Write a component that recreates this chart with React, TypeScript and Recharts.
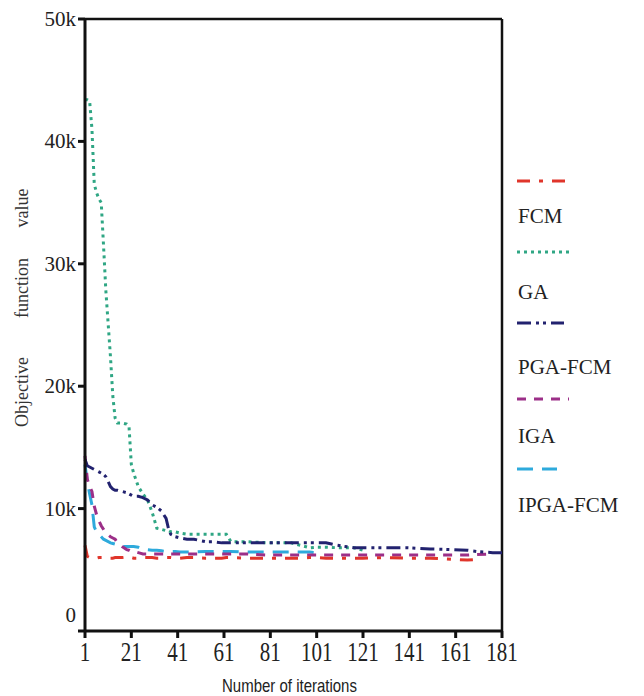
import React from 'react';
import { LineChart, Line, XAxis, YAxis, Legend, ReferenceLine } from 'recharts';

const iterations = [1, 2, 3, 4, 5, 6, 7, 8, 9, 10, 12, 13, 14, 15, 17, 19, 20, 21, 22, 24, 26, 28, 30, 32, 34, 36, 37, 38, 40, 42, 45, 48, 53, 56, 60, 62, 64, 70, 80, 90, 95, 98, 101, 105, 110, 117, 121, 130, 140, 150, 160, 166, 170, 177, 181];

// values in thousands
const fcmValues = [7.0, 6.1, 6.0, 6.0, 6.0, 5.95, 6.0, 6.0, 6.0, 6.0, 5.95, 5.95, 6.0, 6.0, 6.0, 6.05, 6.0, 6.0, 5.95, 5.95, 6.0, 6.0, 6.0, 5.95, 5.95, 6.0, 6.0, 6.0, 5.95, 5.95, 6.0, 6.0, 5.95, 5.95, 5.95, 6.0, 6.0, 5.95, 5.95, 5.95, 5.95, 6.0, 6.0, 5.95, 5.95, 5.95, 5.95, 6.0, 5.95, 5.95, 5.85, 5.8, 5.85, null, null];
const gaValues = [43.4, 43.4, 43.3, 41.0, 36.5, 35.8, 35.3, 35.0, 31.5, 27.8, 22.4, 19.2, 17.4, 17.0, 17.0, 16.9, 16.7, 13.6, 12.9, 11.8, 11.2, 10.7, 9.7, 8.4, 8.3, 8.2, 8.2, 8.1, 8.1, 8.0, 7.9, 7.9, 7.9, 7.9, 7.9, 7.9, 7.3, 7.3, 7.2, 7.2, 6.95, 6.8, 6.85, 6.85, 6.8, 6.8, 6.6, null, null, null, null, null, null, null, null];
const pgaFcmValues = [14.0, 13.5, 13.4, 13.3, 13.2, 13.1, 13.0, 12.9, 12.8, 12.6, 11.8, 11.6, 11.5, 11.5, 11.4, 11.3, 11.2, 11.1, 11.0, 11.0, 10.9, 10.7, 10.3, 10.1, 9.8, 9.2, 8.4, 7.9, 7.7, 7.6, 7.5, 7.5, 7.3, 7.3, 7.2, 7.2, 7.2, 7.2, 7.2, 7.2, 7.2, 7.2, 7.2, 7.2, 7.0, 6.8, 6.8, 6.8, 6.8, 6.7, 6.65, 6.6, 6.5, 6.4, 6.4];
const igaValues = [14.3, 12.4, 11.8, 11.4, 10.2, 9.5, 9.0, 8.6, 8.3, 8.0, 7.7, 7.6, 7.5, 7.2, 6.9, 6.65, 6.6, 6.5, 6.5, 6.4, 6.3, 6.3, 6.3, 6.3, 6.3, 6.3, 6.3, 6.3, 6.3, 6.3, 6.3, 6.3, 6.3, 6.3, 6.3, 6.3, 6.3, 6.3, 6.2, 6.2, 6.2, 6.2, 6.2, 6.2, 6.2, 6.2, 6.2, 6.2, 6.2, 6.2, 6.2, 6.2, 6.25, 6.3, null];
const ipgaFcmValues = [13.6, 12.2, 11.2, 10.3, 8.5, 8.1, 7.9, 7.7, 7.5, 7.4, 7.2, 7.15, 7.1, 7.0, 6.9, 6.9, 6.9, 6.9, 6.9, 6.85, 6.7, 6.65, 6.6, 6.6, 6.55, 6.5, 6.5, 6.5, 6.5, 6.45, 6.45, 6.45, 6.5, 6.5, 6.5, 6.5, 6.5, 6.45, 6.45, 6.45, 6.45, 6.45, 6.4, null, null, null, null, null, null, null, null, null, null, null, null];

const xTicks = [1, 21, 41, 61, 81, 101, 121, 141, 161, 181];
const yTicks = [0, 10, 20, 30, 40, 50];

const seriesNames = ['FCM', 'GA', 'PGA-FCM', 'IGA', 'IPGA-FCM'];
const seriesColors = ['#e0352b', '#2fa684', '#22226f', '#9c2f88', '#2eaadc'];
const seriesDash = ['13 9 4 9', '3 4', '14 5 3 4 3 5', '9 8', '16 9'];

const yLabelWords = ['Objective', 'function', 'value'];
const yLabelOffsets = [-84, 20, 100];

const data = iterations.map((it, i) => ({
  iter: it,
  FCM: fcmValues[i],
  GA: gaValues[i],
  'PGA-FCM': pgaFcmValues[i],
  IGA: igaValues[i],
  'IPGA-FCM': ipgaFcmValues[i],
}));

const SERIF = '"Liberation Serif", "Times New Roman", serif';
const SANS = '"Liberation Sans", Arial, sans-serif';

const YTick = (props: any) => {
  const { x, y, payload } = props;
  const v = payload.value;
  const label = v === 0 ? '0' : `${v}k`;
  return (
    <text x={x} y={v === 0 ? y - 16 : y} textAnchor="end" dominantBaseline="central" fontSize={21} fontFamily={SERIF} fill="#222">
      {label}
    </text>
  );
};

const XTick = (props: any) => {
  const { x, y, payload } = props;
  return (
    <g transform={`translate(${x},${y + 12}) scale(1,1.25)`}>
      <text x={0} y={0} textAnchor="middle" dominantBaseline="central" fontSize={21} fontFamily={SERIF} fill="#222">
        {payload.value}
      </text>
    </g>
  );
};

const YLabel = (props: any) => {
  const vb = props.viewBox || { x: 0, y: 11, width: 77, height: 612 };
  const cx = 14;
  const cy = vb.y + vb.height / 2 - 17;
  return (
    <g transform={`translate(${cx},${cy}) rotate(-90)`}>
      {yLabelWords.map((w, i) => (
        <text
          key={w}
          x={yLabelOffsets[i]}
          y={0}
          textAnchor="middle"
          dominantBaseline="central"
          fontSize={18}
          fontFamily={SERIF}
          fill="#333"
        >
          {w}
        </text>
      ))}
    </g>
  );
};

const XLabel = (props: any) => {
  const vb = props.viewBox || { x: 77, y: 623, width: 417, height: 65 };
  const cx = vb.x + vb.width / 2 - 4;
  const cy = 678;
  return (
    <g transform={`translate(${cx},${cy}) scale(1,1.2)`}>
      <text x={0} y={0} textAnchor="middle" dominantBaseline="central" fontSize={15} fontFamily={SANS} fill="#222">
        Number of iterations
      </text>
    </g>
  );
};

const legendLineY = [13, 84, 155, 231, 301];
const legendTextY = [48, 124, 199, 268, 337];
const legendLineLen = [53, 52, 47, 52, 40];

const LegendBox = () => (
  <div style={{ position: 'relative', width: 135, height: 370 }}>
    {seriesNames.map((name, i) => (
      <React.Fragment key={name}>
        <svg
          width={60}
          height={8}
          style={{ position: 'absolute', left: 4, top: legendLineY[i] - 4 }}
        >
          <line
            x1={0}
            y1={4}
            x2={legendLineLen[i]}
            y2={4}
            stroke={seriesColors[i]}
            strokeWidth={3}
            strokeDasharray={seriesDash[i]}
          />
        </svg>
        <div
          style={{
            position: 'absolute',
            left: 5,
            top: legendTextY[i] - 14,
            height: 28,
            lineHeight: '28px',
            fontFamily: SERIF,
            fontSize: 21,
            color: '#222',
            whiteSpace: 'nowrap',
          }}
        >
          {name}
        </div>
      </React.Fragment>
    ))}
  </div>
);

export default function App() {
  return (
    <div style={{ width: 636, height: 688, background: '#fff' }}>
      <LineChart width={636} height={688} data={data} margin={{ top: 11, right: 142, bottom: 0, left: 0 }}>
        <XAxis
          dataKey="iter"
          type="number"
          domain={[1, 181]}
          ticks={xTicks}
          interval={0}
          height={65}
          axisLine={{ stroke: '#111', strokeWidth: 3 }}
          tickLine={{ stroke: '#111', strokeWidth: 3 }}
          tickSize={7}
          tick={<XTick />}
          label={<XLabel />}
        />
        <YAxis
          type="number"
          domain={[0, 50]}
          ticks={yTicks}
          interval={0}
          width={77}
          axisLine={{ stroke: '#111', strokeWidth: 3 }}
          tickLine={{ stroke: '#111', strokeWidth: 3 }}
          tickSize={7}
          tick={<YTick />}
          label={<YLabel />}
        />
        <ReferenceLine y={50} stroke="#111" strokeWidth={2.5} />
        <ReferenceLine x={181} stroke="#111" strokeWidth={2.5} />
        <Line dataKey="GA" stroke={seriesColors[1]} strokeWidth={3} strokeDasharray={seriesDash[1]} dot={false} isAnimationActive={false} />
        <Line dataKey="IPGA-FCM" stroke={seriesColors[4]} strokeWidth={3} strokeDasharray={seriesDash[4]} dot={false} isAnimationActive={false} />
        <Line dataKey="IGA" stroke={seriesColors[3]} strokeWidth={3} strokeDasharray={seriesDash[3]} dot={false} isAnimationActive={false} />
        <Line dataKey="PGA-FCM" stroke={seriesColors[2]} strokeWidth={3} strokeDasharray={seriesDash[2]} dot={false} isAnimationActive={false} />
        <Line dataKey="FCM" stroke={seriesColors[0]} strokeWidth={3} strokeDasharray={seriesDash[0]} dot={false} isAnimationActive={false} />
        <Legend
          layout="horizontal"
          verticalAlign="middle"
          align="center"
          content={() => <LegendBox />}
          wrapperStyle={{ left: 505, top: 160, width: 135, height: 370 }}
        />
      </LineChart>
    </div>
  );
}
